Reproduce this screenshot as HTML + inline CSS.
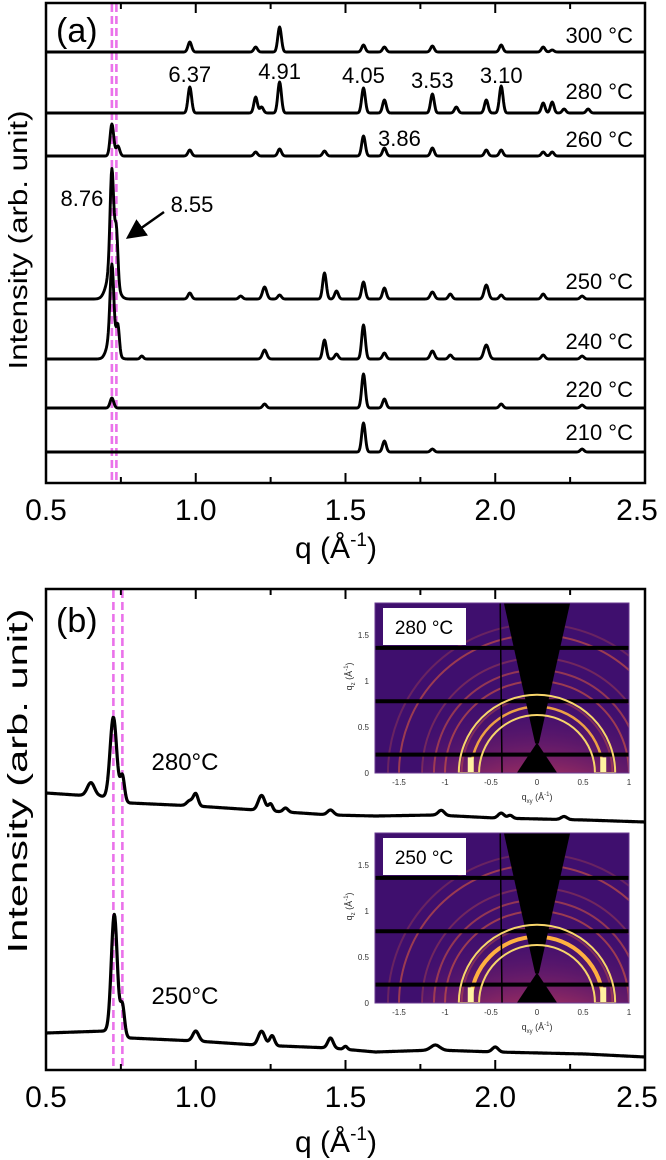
<!DOCTYPE html>
<html><head><meta charset="utf-8">
<style>
html,body{margin:0;padding:0;background:#fff;}
svg{display:block;font-family:"Liberation Sans",Arial,sans-serif;}
</style></head>
<body>
<svg id="fig" width="666" height="1160" viewBox="0 0 666 1160" xmlns="http://www.w3.org/2000/svg">
<defs>
  <radialGradient id="glow" cx="0.5" cy="1" r="0.9">
    <stop offset="0" stop-color="#f88a3a"/>
    <stop offset="0.45" stop-color="#c23a5a"/>
    <stop offset="1" stop-color="#4a1070" stop-opacity="0"/>
  </radialGradient>
  <clipPath id="clipI1"><rect x="375" y="603" width="254" height="170"/></clipPath>
  <clipPath id="clipI2"><rect x="375" y="833" width="254" height="170"/></clipPath>
  <marker id="arrowHead" markerWidth="8" markerHeight="8" refX="6" refY="4" orient="auto"><path d="M0,0 L8,4 L0,8 z" fill="#000"/></marker>
</defs>
<g id="panelA"></g>
<g id="panelB"></g>
</svg>
<script>
// ---------- Panel (a) data: peak positions (q), heights (px), widths ----------
const aTemps = ["300 °C","280 °C","260 °C","250 °C","240 °C","220 °C","210 °C"];
const aBase = [52,113,156,299,359,408,452];
const aLabelY = [43,99,147,289,349,397,440];
const a300Q = [0.98,1.20,1.28,1.56,1.63,1.79,2.02,2.16,2.19];
const a300H = [10,5,25,7,5,6,7,5,2];
const a280Q = [0.98,1.20,1.22,1.28,1.56,1.63,1.79,1.87,1.97,2.02,2.16,2.19,2.23,2.31];
const a280H = [26,16,6,31,25,13,19,6,13,27,10,11,4,4];
const a260Q = [0.72,0.74,0.98,1.20,1.28,1.43,1.56,1.63,1.79,1.97,2.02,2.16,2.19];
const a260H = [32,10,6,4,7,5,20,8,8,6,6,4,4];
const a250Q = [0.72,0.735,0.72,0.98,1.15,1.23,1.28,1.43,1.47,1.56,1.63,1.79,1.85,1.97,2.02,2.16,2.29];
const a250H = [100,50,30,6,3,12,4,26,8,17,11,7,5,14,4,5,3];
const a250W = [0.006,0.005,0.016,0.006,0.006,0.007,0.006,0.006,0.006,0.006,0.006,0.007,0.006,0.007,0.006,0.006,0.006];
const a240Q = [0.72,0.74,0.72,0.82,1.23,1.43,1.47,1.56,1.63,1.79,1.85,1.97,2.16,2.29];
const a240H = [70,26,25,3,9,19,5,34,6,8,4,14,4,3];
const a240W = [0.006,0.005,0.014,0.005,0.007,0.006,0.006,0.006,0.006,0.007,0.006,0.008,0.006,0.006];
const a220Q = [0.72,1.23,1.56,1.63,2.02,2.29];
const a220H = [10,4,34,9,4,3];
const a210Q = [1.56,1.63,1.79,2.29];
const a210H = [29,11,3,3];
const aQs = [a300Q,a280Q,a260Q,a250Q,a240Q,a220Q,a210Q];
const aHs = [a300H,a280H,a260H,a250H,a240H,a220H,a210H];
const aWs = [null,null,null,a250W,a240W,null,null];
const aTicks = ["0.5","1.0","1.5","2.0","2.5"];
const aTickQ = [0.5,1.0,1.5,2.0,2.5];
const aMinorQ = [0.75,1.25,1.75,2.25];
const aMarkQ = [0.72,0.735];
const aPeakLabels = ["6.37","4.91","4.05","3.53","3.10","3.86","8.76"];
const aPeakLabelQ = [0.98,1.28,1.56,1.79,2.02,1.68,0.62];
const aPeakLabelY = [82,79,83,88,83,146,206];

// ---------- Panel (b) data ----------
const bTemps = ["280°C","250°C"];
const b280BgQ = [0.5,0.6,0.68,0.78,1.0,1.2,1.45,1.6,1.8,2.0,2.3,2.5];
const b280BgY = [793,795,796,803,806,810,815,816,815,818,820,822];
const b280Q = [0.65,0.725,0.755,0.98,1.0,1.22,1.25,1.30,1.45,1.82,2.02,2.05,2.23];
const b280H = [13,82,25,5,12,15,7,4,5,5,5,3,3];
const b280W = [0.012,0.011,0.007,0.01,0.008,0.011,0.007,0.008,0.01,0.01,0.01,0.008,0.01];
const b250BgQ = [0.5,0.7,0.78,1.0,1.2,1.45,1.6,1.8,2.0,2.3,2.5];
const b250BgY = [1033,1031,1038,1041,1045,1048,1052,1050,1052,1054,1057];
const b250Q = [0.728,0.755,1.0,1.22,1.255,1.45,1.50,1.80,2.0];
const b250H = [119,30,10,14,10,10,3,5,5];
const b250W = [0.010,0.007,0.01,0.011,0.008,0.009,0.006,0.015,0.01];
const bMarkQ = [0.725,0.755];
const bLabelY = [770,1004];
// inset ring radii (Å^-1) and intensity
const ringR = [0.72,0.82,1.0,1.12,1.25,1.5,1.62];
const ringOp = [0.9,0.35,0.55,0.5,0.3,0.55,0.25];
const insetTicksX = [-1.5,-1,-0.5,0,0.5,1];
const insetTicksY = [0,0.5,1,1.5];
const arcR = [0.63,0.85];

const NS="http://www.w3.org/2000/svg";
function mk(tag,attrs,parent){const e=document.createElementNS(NS,tag);for(const k in attrs)e.setAttribute(k,attrs[k]);parent.appendChild(e);return e;}
const L=46,R=645;
const xA=q=>L+(R-L)*(q-0.5)/2;
const A=document.getElementById('panelA'), B=document.getElementById('panelB');

function axesBox(g,top,bot,name){
  const r=mk('rect',{x:L,y:top,width:R-L,height:bot-top,fill:'none',stroke:'#000','stroke-width':2.5},g);
  
  
  aTickQ.forEach((q,i)=>{
    mk('line',{x1:xA(q),x2:xA(q),y1:bot,y2:bot-10,stroke:'#000','stroke-width':2},g);
    mk('line',{x1:xA(q),x2:xA(q),y1:top,y2:top+10,stroke:'#000','stroke-width':2},g);
    const t=mk('text',{x:xA(q)+(i==4?-8:0),y:bot+37,'font-size':30,'text-anchor':'middle'},g);
    t.textContent=aTicks[i];
    
    
  });
  aMinorQ.forEach(q=>{
    mk('line',{x1:xA(q),x2:xA(q),y1:bot,y2:bot-6,stroke:'#000','stroke-width':2},g);
    mk('line',{x1:xA(q),x2:xA(q),y1:top,y2:top+6,stroke:'#000','stroke-width':2},g);
  });
}
function xTitle(g,y){
  const t=mk('text',{x:336,y:y,'font-size':30,'text-anchor':'middle'},g);
  
  
  t.innerHTML='q (Å<tspan font-size="19" dy="-12">-1</tspan><tspan dy="12">)</tspan>';
}
function yTitle(g,cy,size,len){
  const t=mk('text',{x:0,y:0,'font-size':size,'text-anchor':'middle',transform:`translate(27,${cy}) rotate(-90)`,textLength:len,lengthAdjust:'spacingAndGlyphs'},g);
  t.textContent='Intensity (arb. unit)';
  
  
}
function marks(g,qs,top,bot){
  qs.forEach(q=>{
    const l=mk('line',{x1:xA(q),x2:xA(q),y1:top,y2:bot,stroke:'#ea72ea','stroke-width':2.6,'stroke-dasharray':'8 4'},g);
    
    
  });
}
function interp(xs,ys,q){
  if(q<=xs[0])return ys[0];
  for(let i=1;i<xs.length;i++){if(q<=xs[i]){const t=(q-xs[i-1])/(xs[i]-xs[i-1]);return ys[i-1]+t*(ys[i]-ys[i-1]);}}
  return ys[ys.length-1];
}
function tracePath(baseFn,Q,H,W,defW){
  let d='';
  for(let q=0.5;q<=2.5001;q+=0.002){
    let y=baseFn(q);
    for(let i=0;i<Q.length;i++){const w=W?W[i]:defW;y-=H[i]*Math.exp(-0.5*((q-Q[i])/w)**2);}
    d+=(d?'L':'M')+xA(q).toFixed(1)+','+y.toFixed(1);
  }
  return d;
}

// ===== Panel (a) =====
marks(A,aMarkQ,4,482);
aTemps.forEach((name,i)=>{
  const p=mk('path',{d:tracePath(()=>aBase[i],aQs[i],aHs[i],aWs[i],0.006),fill:'none',stroke:'#000','stroke-width':2.9,'stroke-linejoin':'round'},A);
  
  
  const t=mk('text',{x:633,y:aLabelY[i],'font-size':22,'text-anchor':'end'},A);
  t.textContent=name;
  
  
});
aPeakLabels.forEach((s,i)=>{
  const t=mk('text',{x:xA(aPeakLabelQ[i]),y:aPeakLabelY[i],'font-size':22,'text-anchor':'middle'},A);
  t.textContent=s;
  
  
});
{
  const t=mk('text',{x:192,y:212,'font-size':22,'text-anchor':'middle'},A);
  t.textContent='8.55';
  
  
  const ar=mk('line',{x1:164,y1:212,x2:130,y2:236,stroke:'#000','stroke-width':2.5,'marker-end':'url(#arrowHead)'},A);
  
  
}
axesBox(A,3,483,'axes-a');
{
  const t=mk('text',{x:56,y:42,'font-size':34},A);
  t.textContent='(a)';
  
  
}
xTitle(A,558);
yTitle(A,240,26,259);

// ===== Panel (b) =====
marks(B,bMarkQ,590,1069);
[[b280BgQ,b280BgY,b280Q,b280H,b280W],[b250BgQ,b250BgY,b250Q,b250H,b250W]].forEach((s,i)=>{
  const p=mk('path',{d:tracePath(q=>interp(s[0],s[1],q),s[2],s[3],s[4],0.01),fill:'none',stroke:'#000','stroke-width':3.2,'stroke-linejoin':'round'},B);
  
  
  const t=mk('text',{x:185,y:bLabelY[i],'font-size':24,'text-anchor':'middle'},B);
  t.textContent=bTemps[i];
  
  
});

function inset(top,label,clip,hot){
  const g=mk('g',{},B);
  
  
  const X0=537, S=92, Y0=top+170;
  const ix=q=>X0+q*S, iy=q=>Y0-q*S;
  const c=mk('g',{'clip-path':`url(#${clip})`},g);
  mk('rect',{x:375,y:top,width:254,height:170,fill:'#3f0f6e'},c);
  mk('ellipse',{cx:X0,cy:Y0,rx:115,ry:100,fill:'url(#glow)',opacity:0.95},c);
  ringR.forEach((r,i)=>{
    const op = (i==0&&hot)?1:ringOp[i];
    mk('circle',{cx:X0,cy:Y0,r:r*S,fill:'none',stroke:i==0?'#ffb040':'#e8603a','stroke-width':i==0?(hot?4:2.5):2,opacity:op},c);
  });
  [-0.72,0.72].forEach(q=>mk('rect',{x:ix(q)-3,y:iy(0.17),width:6,height:0.17*S,fill:'#fff2a0'},c));
  mk('path',{d:`M${ix(-0.36)},${top} L${ix(0.36)},${top} L${ix(0.02)},${iy(0.32)} L${ix(-0.02)},${iy(0.32)} Z`,fill:'#000'},c);
  mk('path',{d:`M${ix(-0.22)},${Y0} L${ix(0.22)},${Y0} L${ix(0)},${iy(0.33)} Z`,fill:'#000'},c);
  [0.2,0.78,1.36].forEach(q=>mk('rect',{x:375,y:iy(q)-2,width:254,height:4,fill:'#000'},c));
  mk('line',{x1:ix(-0.4),x2:ix(-0.38),y1:top,y2:Y0,stroke:'#000','stroke-width':1.5},c);
  const r1=arcR[0]*S,r2=arcR[1]*S;
  mk('path',{d:`M${X0-r2},${Y0} A${r2},${r2} 0 0 1 ${X0+r2},${Y0} L${X0+r1},${Y0} A${r1},${r1} 0 0 0 ${X0-r1},${Y0} Z`,fill:'none',stroke:'#f7d56a','stroke-width':2},c);
  mk('rect',{x:375,y:top,width:254,height:170,fill:'none',stroke:'#6a3a90','stroke-width':1},g);
  mk('rect',{x:383,y:top+5,width:83,height:37,fill:'#fff'},g);
  const t=mk('text',{x:424,y:top+31,'font-size':19,'text-anchor':'middle'},g);
  t.textContent=label;
  
  
  insetTicksX.forEach(v=>{const tt=mk('text',{x:ix(v),y:Y0+12,'font-size':8,'text-anchor':'middle',fill:'#333'},g);tt.textContent=String(v);});
  insetTicksY.forEach(v=>{const tt=mk('text',{x:369,y:iy(v)+3,'font-size':8,'text-anchor':'end',fill:'#333'},g);tt.textContent=String(v);});
  const xt=mk('text',{x:X0,y:Y0+27,'font-size':9,'text-anchor':'middle',fill:'#333'},g);
  xt.innerHTML='q<tspan font-size="6" dy="3">xy</tspan><tspan dy="-3"> (Å</tspan><tspan font-size="6" dy="-4">-1</tspan><tspan dy="4">)</tspan>';
  
  
  const yt=mk('text',{x:0,y:0,'font-size':9,'text-anchor':'middle',fill:'#333',transform:`translate(352,${iy(1.05)}) rotate(-90)`},g);
  yt.innerHTML='q<tspan font-size="6" dy="3">z</tspan><tspan dy="-3"> (Å</tspan><tspan font-size="6" dy="-4">-1</tspan><tspan dy="4">)</tspan>';
  
  
}
inset(603,'280 °C','clipI1',false);
inset(833,'250 °C','clipI2',true);

axesBox(B,589,1070,'axes-b');
{
  const t=mk('text',{x:56,y:632,'font-size':34},B);
  t.textContent='(b)';
  
  
}
xTitle(B,1152);
yTitle(B,781,28,345);
</script>
</body></html>
